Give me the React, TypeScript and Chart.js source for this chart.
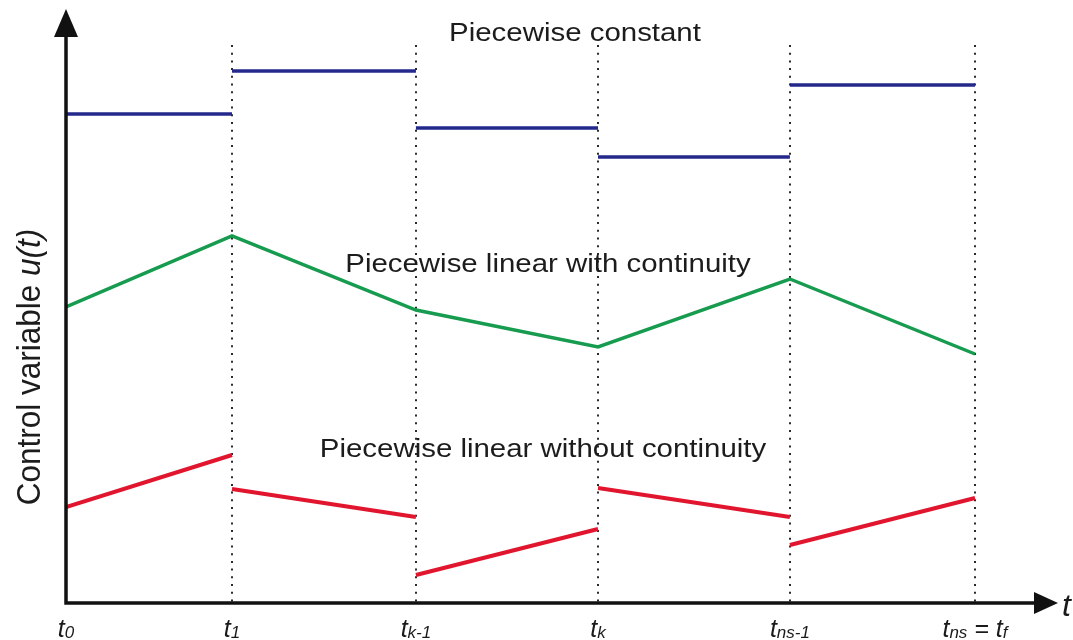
import React, { useEffect, useRef } from "react";
import { Chart, registerables } from "chart.js";

Chart.register(...registerables);

// Knot times t0 .. tns (arbitrary time units)
const knots = [0, 1.0, 2.108, 3.205, 4.361, 5.476];
const xMax = 5.976;
const yMax = 594;

// Piecewise constant levels (one per interval)
const constLevels = [489, 532, 475, 446, 518];
// Piecewise linear with continuity (one value per knot)
const contValues = [296, 367, 293, 256, 324, 249];
// Piecewise linear without continuity (start / end per interval)
const discStart = [96, 114, 28, 115, 58];
const discEnd = [148, 86, 74, 86, 105];

// Tick labels: alternating [normal, subscript, normal, subscript ...]
const tickLabels: string[][] = [
  ["t", "0"],
  ["t", "1"],
  ["t", "k-1"],
  ["t", "k"],
  ["t", "ns-1"],
  ["t", "ns", " = t", "f"],
];

const titles = [
  "Piecewise constant",
  "Piecewise linear with continuity",
  "Piecewise linear without continuity",
];

const BLUE = "#24288a";
const GREEN = "#169b4f";
const RED = "#e1162e";

function segData(starts: number[], ends: number[]) {
  const out: { x: number; y: number | null }[] = [];
  for (let i = 0; i < starts.length; i++) {
    out.push({ x: knots[i], y: starts[i] });
    out.push({ x: knots[i + 1], y: ends[i] });
    out.push({ x: knots[i + 1], y: null });
  }
  return out;
}

const decorPlugin = {
  id: "decor",
  beforeDatasetsDraw(chart: any) {
    const ctx = chart.ctx as CanvasRenderingContext2D;
    const xs = chart.scales.x;
    const ys = chart.scales.y;
    ctx.save();
    ctx.strokeStyle = "#2a2a2a";
    ctx.lineWidth = 2;
    ctx.setLineDash([2, 5.7]);
    const top = ys.getPixelForValue(558);
    const bottom = ys.getPixelForValue(0);
    for (let i = 1; i < knots.length; i++) {
      const px = Math.round(xs.getPixelForValue(knots[i]));
      ctx.beginPath();
      ctx.moveTo(px, top);
      ctx.lineTo(px, bottom);
      ctx.stroke();
    }
    ctx.restore();
  },
  afterDatasetsDraw(chart: any) {
    const ctx = chart.ctx as CanvasRenderingContext2D;
    const xs = chart.scales.x;
    const ys = chart.scales.y;
    const x0 = xs.getPixelForValue(0);
    const x1 = xs.getPixelForValue(xMax);
    const y0 = ys.getPixelForValue(0);
    const y1 = ys.getPixelForValue(yMax);
    ctx.save();
    // axes
    ctx.strokeStyle = "#111";
    ctx.fillStyle = "#111";
    ctx.lineWidth = 3.5;
    ctx.beginPath();
    ctx.moveTo(x0, y0 + 1.75);
    ctx.lineTo(x0, y1 + 26);
    ctx.moveTo(x0 - 1.75, y0);
    ctx.lineTo(x1 - 22, y0);
    ctx.stroke();
    // arrow heads
    ctx.beginPath();
    ctx.moveTo(x0, y1);
    ctx.lineTo(x0 - 12, y1 + 28);
    ctx.lineTo(x0 + 12, y1 + 28);
    ctx.closePath();
    ctx.fill();
    ctx.beginPath();
    ctx.moveTo(x1, y0);
    ctx.lineTo(x1 - 24, y0 - 11);
    ctx.lineTo(x1 - 24, y0 + 11);
    ctx.closePath();
    ctx.fill();

    // tick labels
    const mainFont = "italic 25px 'Liberation Sans Narrow', 'Liberation Sans', Arial, sans-serif";
    const subFont = "italic 17px 'Liberation Sans Narrow', 'Liberation Sans', Arial, sans-serif";
    ctx.fillStyle = "#1a1a1a";
    ctx.textBaseline = "alphabetic";
    ctx.textAlign = "left";
    tickLabels.forEach((parts, i) => {
      let w = 0;
      parts.forEach((p, j) => {
        ctx.font = j % 2 === 0 ? mainFont : subFont;
        w += ctx.measureText(p).width;
      });
      let cx = xs.getPixelForValue(knots[i]) - w / 2;
      parts.forEach((p, j) => {
        ctx.font = j % 2 === 0 ? mainFont : subFont;
        ctx.fillText(p, cx, j % 2 === 0 ? y0 + 34 : y0 + 35);
        cx += ctx.measureText(p).width;
      });
    });
    // axis name t
    ctx.font = "italic 32px 'Liberation Sans', Arial, sans-serif";
    ctx.fillText("t", x1 + 4, y0 + 13);

    // series titles (slightly stretched horizontally)
    const titlePos = [
      [575, 41],
      [548, 272],
      [543, 457],
    ];
    ctx.font = "26.5px 'Liberation Sans', Arial, sans-serif";
    ctx.fillStyle = "#1c1c1c";
    ctx.textAlign = "center";
    titles.forEach((t, i) => {
      ctx.save();
      ctx.translate(titlePos[i][0], titlePos[i][1]);
      ctx.scale(1.11, 1);
      ctx.fillText(t, 0, 0);
      ctx.restore();
    });

    // y axis title
    ctx.save();
    ctx.translate(40, 367);
    ctx.scale(1.06, 1);
    ctx.rotate(-Math.PI / 2);
    const normal = "Control variable ";
    const ital = "u(t)";
    const nFont = "31.5px 'Liberation Sans', Arial, sans-serif";
    const iFont = "italic 31.5px 'Liberation Sans', Arial, sans-serif";
    ctx.font = nFont;
    const wn = ctx.measureText(normal).width;
    ctx.font = iFont;
    const wi = ctx.measureText(ital).width;
    const start = -(wn + wi) / 2;
    ctx.textAlign = "left";
    ctx.font = nFont;
    ctx.fillText(normal, start, 0);
    ctx.font = iFont;
    ctx.fillText(ital, start + wn, 0);
    ctx.restore();

    ctx.restore();
  },
};

export default function App() {
  const ref = useRef<HTMLCanvasElement | null>(null);
  useEffect(() => {
    if (!ref.current) return;
    const contData = knots.map((k, i) => ({ x: k, y: contValues[i] }));
    const chart = new Chart(ref.current, {
      type: "line",
      data: {
        datasets: [
          {
            label: "Piecewise constant",
            data: segData(constLevels, constLevels),
            borderColor: BLUE,
            borderWidth: 3.5,
            pointRadius: 0,
            spanGaps: false,
            borderCapStyle: "butt",
          },
          {
            label: "Piecewise linear with continuity",
            data: contData,
            borderColor: GREEN,
            borderWidth: 3.5,
            pointRadius: 0,
            borderJoinStyle: "miter",
          },
          {
            label: "Piecewise linear without continuity",
            data: segData(discStart, discEnd),
            borderColor: RED,
            borderWidth: 4,
            pointRadius: 0,
            spanGaps: false,
            borderCapStyle: "butt",
          },
        ],
      },
      options: {
        animation: false,
        responsive: false,
        events: [],
        layout: { padding: { left: 66, right: 15, top: 9, bottom: 37 } },
        plugins: { legend: { display: false }, tooltip: { enabled: false } },
        scales: {
          x: { type: "linear", min: 0, max: xMax, display: false },
          y: { type: "linear", min: 0, max: yMax, display: false },
        },
      } as any,
      plugins: [decorPlugin],
    } as any);
    return () => chart.destroy();
  }, []);
  return (
    <div style={{ position: "absolute", left: 0, top: 0, width: 1073, height: 640, background: "#fff" }}>
      <canvas ref={ref} width={1073} height={640} />
    </div>
  );
}
